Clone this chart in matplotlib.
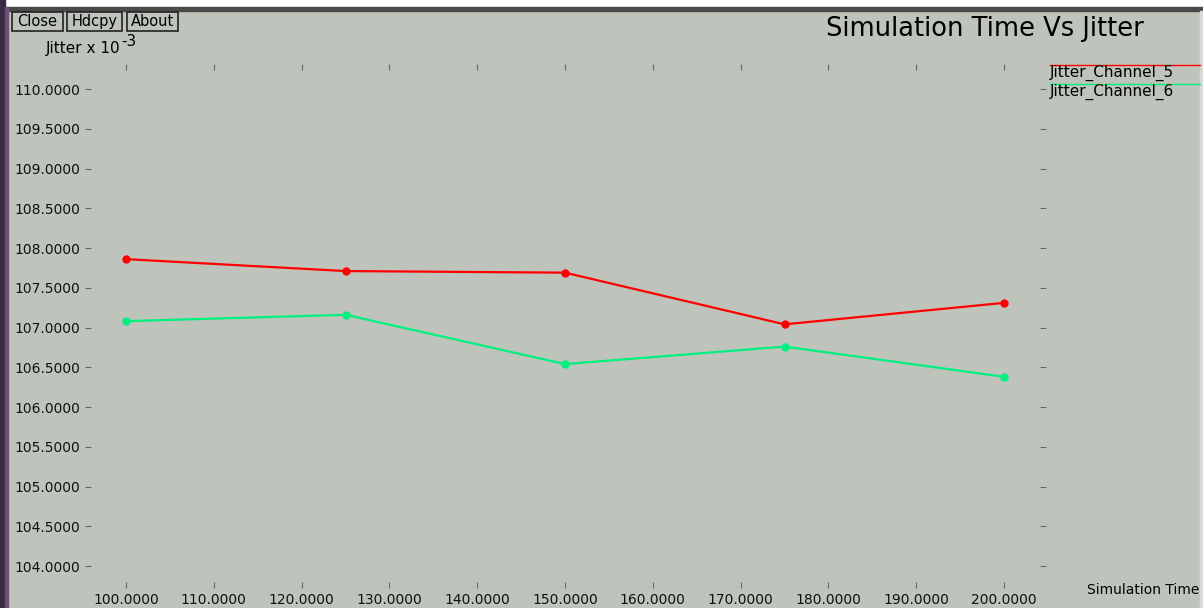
import matplotlib.pyplot as plt
from matplotlib.patches import Rectangle

sim_time = [100, 125, 150, 175, 200]
jitter_ch5 = [107.86, 107.71, 107.69, 107.04, 107.31]
jitter_ch6 = [107.08, 107.16, 106.54, 106.76, 106.38]
series_names = ["Jitter_Channel_5", "Jitter_Channel_6"]
xticks = [100, 110, 120, 130, 140, 150, 160, 170, 180, 190, 200]
yticks = [104.0, 104.5, 105.0, 105.5, 106.0, 106.5, 107.0, 107.5, 108.0, 108.5, 109.0, 109.5, 110.0]

bg = "#bec4bc"
W, H = 1203, 608

fig = plt.figure(figsize=(W / 100, H / 100), dpi=100)
fig.patch.set_facecolor(bg)


def px(x, y):
    return x / W, 1 - y / H


# window frame
fig.patches.append(Rectangle((0, 1 - 7 / H), 1, 7 / H, transform=fig.transFigure,
                             color="white", zorder=0))
fig.patches.append(Rectangle((0, 1 - 11 / H), 1, 4 / H, transform=fig.transFigure,
                             color="#4a4a4a", zorder=0))
fig.patches.append(Rectangle((0, 0), 5 / W, 1, transform=fig.transFigure,
                             color="#3c2a44", zorder=1))
fig.patches.append(Rectangle((5 / W, 0), 3 / W, 1 - 7 / H, transform=fig.transFigure,
                             color="#6a5272", zorder=1))
fig.patches.append(Rectangle((1200 / W, 0), 3 / W, 1 - 11 / H, transform=fig.transFigure,
                             color="#d8dcd6", zorder=1))

# buttons
for label, x0, x1 in [("Close", 12, 63), ("Hdcpy", 67, 122), ("About", 127, 178)]:
    fig.patches.append(Rectangle(px(x0, 31), (x1 - x0) / W, 19 / H,
                                 transform=fig.transFigure, facecolor=bg,
                                 edgecolor="#222222", linewidth=1.2, zorder=2))
    fig.text((x0 + x1) / 2 / W, 1 - 21.5 / H, label, ha="center", va="center",
             fontsize=10.5, color="black")

ax = fig.add_axes([88 / W, 1 - 585 / H, (1043 - 88) / W, (585 - 67) / H])
ax.set_facecolor(bg)
for s in ax.spines.values():
    s.set_visible(False)

ax.plot(sim_time, jitter_ch5, color="#ff0000", linewidth=1.6, marker="o",
        markersize=5, label=series_names[0])
ax.plot(sim_time, jitter_ch6, color="#00f080", linewidth=1.6, marker="o",
        markersize=5, label=series_names[1])

ax.set_xlim(95.67, 204.44)
ax.set_ylim(103.761, 110.277)
ax.set_xticks(xticks)
ax.set_yticks(yticks)
ax.set_xticklabels(["%.4f" % v for v in xticks])
ax.set_yticklabels(["%.4f" % v for v in yticks])
ax.tick_params(axis="both", which="both", direction="inout", length=5, width=0.8,
               color="#666666", labelsize=10, labelcolor="#111111",
               top=True, right=True)
ax.tick_params(axis="x", pad=3)
ax.tick_params(axis="y", pad=3)

# title and axis captions
fig.text(*px(985, 29), "Simulation Time Vs Jitter", ha="center", va="center",
         fontsize=18.5, color="black")
fig.text(*px(46, 48), "Jitter x 10", ha="left", va="center", fontsize=11)
fig.text(*px(121, 41), "-3", ha="left", va="center", fontsize=11)
fig.text(*px(1087, 590), "Simulation Time", ha="left", va="center", fontsize=10)

# legend drawn like the original
for name, color, ly in [(series_names[0], "#ff0000", 65), (series_names[1], "#00f080", 84)]:
    fig.lines.append(plt.Line2D([1050 / W, 1200 / W], [1 - ly / H, 1 - ly / H],
                                transform=fig.transFigure, color=color, linewidth=1))
    fig.text(*px(1050, ly + 8), name, ha="left", va="center", fontsize=11)

fig.savefig("out.png", dpi=100, facecolor=bg)
